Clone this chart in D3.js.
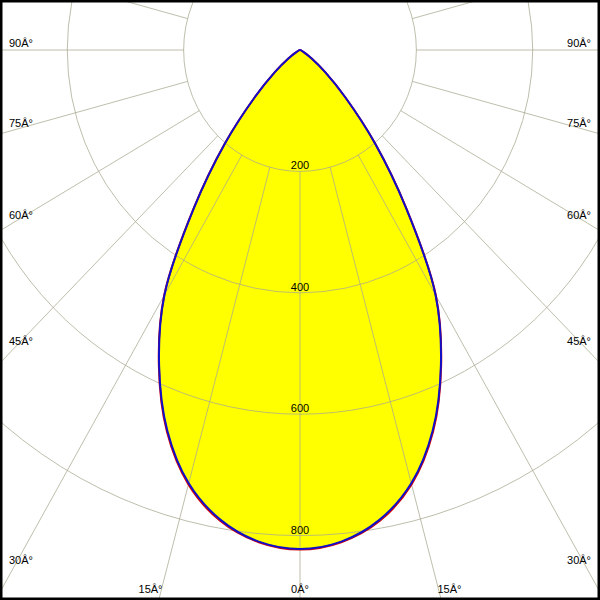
<!DOCTYPE html>
<html><head><meta charset="utf-8">
<script src="https://cdn.jsdelivr.net/npm/d3@7"></script>
<style>html,body{margin:0;padding:0;background:#fff}svg{display:block}</style>
</head><body>
<script>
// ---- data ----
const angles     = [0, 5, 10, 15, 20, 25, 30, 35, 40, 45, 50, 55, 60, 65];
const intensC90  = [822, 813, 786, 739, 667, 573, 466, 318, 200, 110, 56, 25, 8, 0]; // blue
const intensC0   = [823, 814, 788, 741, 669, 574, 467, 319, 201, 110, 56, 25, 8, 0]; // red
const ringValues = [200, 400, 600, 800];
const ringLabels = ["200", "400", "600", "800"];
const spokeAngles = d3.range(-180, 181, 15);
const tickAngles = [90, 75, 60, 45, 30, 15, 0, -15, -30, -45, -60, -75, -90];
const tickLabels = ["90Â°", "75Â°", "60Â°", "45Â°", "30Â°", "15Â°", "0Â°", "15Â°", "30Â°", "45Â°", "60Â°", "75Â°", "90Â°"];

const W = 600, H = 600, cx = 300, cy = 50;
const aspect = 0.9585;
const ry = d3.scaleLinear().domain([0, 800]).range([0, 485.6]);
const rx = d3.scaleLinear().domain([0, 800]).range([0, 485.6 * aspect]);
const rad = a => a * Math.PI / 180;
const pt = (a, v) => [cx - rx(v) * Math.sin(rad(a)), cy + ry(v) * Math.cos(rad(a))];

const svg = d3.select("body").append("svg").attr("width", W).attr("height", H)
  .style("font-family", "'Liberation Sans', Arial, sans-serif").style("font-size", "11px");
svg.append("defs").append("clipPath").attr("id", "clip")
  .append("rect").attr("width", W).attr("height", H);
const g = svg.append("g").attr("clip-path", "url(#clip)");

function curvePoints(vals) {
  const pts = [];
  for (let i = angles.length - 1; i > 0; i--) if (vals[i] > 0) pts.push(pt(angles[i], vals[i]));
  for (let i = 0; i < angles.length; i++) if (vals[i] > 0) pts.push(pt(-angles[i], vals[i]));
  pts.push([cx, cy]);
  return pts;
}
const line = d3.line().curve(d3.curveCatmullRomClosed.alpha(0.5));

// fill
g.append("path").attr("d", line(curvePoints(intensC90))).attr("fill", "#ffff00").attr("stroke", "none");

// grid
const grid = g.append("g").attr("stroke", "#a8a890").attr("stroke-opacity", 0.75).attr("fill", "none").attr("stroke-width", 1);
grid.selectAll("ellipse").data(ringValues).join("ellipse")
  .attr("cx", cx).attr("cy", cy).attr("rx", d => rx(d)).attr("ry", d => ry(d));
grid.selectAll("line").data(spokeAngles).join("line")
  .attr("x1", d => pt(d, ringValues[0])[0]).attr("y1", d => pt(d, ringValues[0])[1])
  .attr("x2", d => pt(d, 3000)[0]).attr("y2", d => pt(d, 3000)[1]);

// curves
g.append("path").attr("d", line(curvePoints(intensC0))).attr("fill", "none").attr("stroke", "#e00000").attr("stroke-width", 2);
g.append("path").attr("d", line(curvePoints(intensC90))).attr("fill", "none").attr("stroke", "#1010c8").attr("stroke-width", 2);

// ring labels
svg.selectAll("text.ring").data(ringValues).join("text").attr("class", "ring")
  .attr("x", cx).attr("y", d => cy + ry(d) - 2).attr("text-anchor", "middle").text((d, i) => ringLabels[i]);

// angle labels
function rayAtX(a, x) {
  const s = Math.abs(Math.sin(rad(a))) * aspect, c = Math.cos(rad(a));
  const R = Math.abs(x - cx) / s;
  return cy + R * c;
}
function rayAtY(a, y) {
  const s = Math.sin(rad(a)) * aspect, c = Math.cos(rad(a));
  const R = (y - cy) / c;
  return cx - R * s;
}
tickAngles.forEach((a, i) => {
  const t = svg.append("text").text(tickLabels[i]);
  const abs = Math.abs(a);
  if (abs >= 30) {
    const left = a > 0;
    const yb = rayAtX(a, left ? 14 : W - 14) - 3;
    t.attr("x", left ? 9 : W - 9).attr("y", Math.min(yb, 565)).attr("text-anchor", left ? "start" : "end");
  } else if (a === 0) {
    t.attr("x", cx).attr("y", 593).attr("text-anchor", "middle");
  } else {
    const xr = rayAtY(a, 593);
    const left = a > 0;
    t.attr("x", left ? xr + 2 : xr - 2).attr("y", 593).attr("text-anchor", left ? "end" : "start");
  }
});

// border
svg.append("rect").attr("x", 0).attr("y", 0).attr("width", W).attr("height", H)
  .attr("fill", "none").attr("stroke", "#000").attr("stroke-width", 5);
</script>
</body></html>
